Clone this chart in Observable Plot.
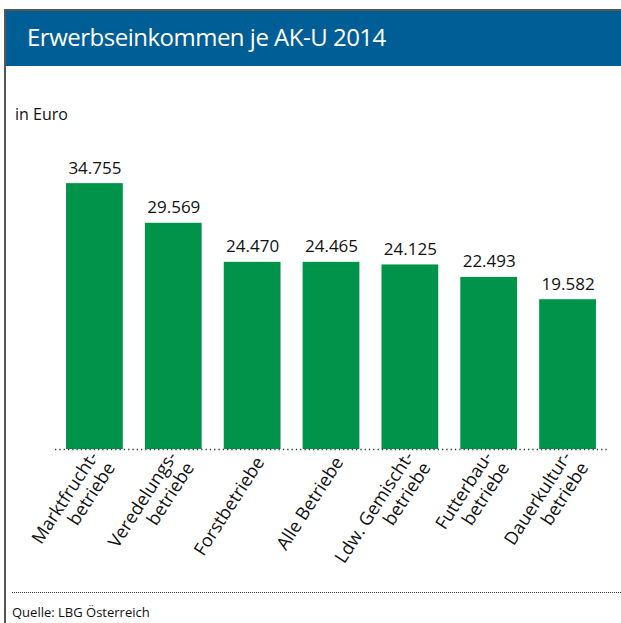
<!DOCTYPE html>
<html>
<head>
<meta charset="utf-8">
<script src="https://cdn.jsdelivr.net/npm/d3@7"></script>
<script src="https://cdn.jsdelivr.net/npm/@observablehq/plot@0.6"></script>
<style>
  html, body { margin: 0; padding: 0; background: #fff; }
  body { width: 621px; height: 623px; position: relative; overflow: hidden; font-family: "Open Sans", sans-serif; }
  .frame-top { position: absolute; left: 4px; top: 9px; width: 617px; height: 2px; background: #555; }
  .frame-left { position: absolute; left: 4px; top: 9px; width: 2px; height: 614px; background: #555; }
  .header { position: absolute; left: 6px; top: 11px; width: 615px; height: 55px; background: #005e96; }
  .title { position: absolute; left: 27px; top: 20px; color: #fff; font-size: 24px; letter-spacing: -0.5px; white-space: nowrap; }
  .unit { position: absolute; left: 15px; top: 103px; font-size: 16px; color: #111; }
  .bottom-rule { position: absolute; left: 12px; top: 592px; width: 609px; height: 0; border-top: 1.3px dotted #333; }
  .source { position: absolute; left: 12px; top: 605px; font-size: 13px; line-height: 15px; color: #111; white-space: nowrap; }
  #chart { position: absolute; left: 6px; top: 70px; }
</style>
</head>
<body>
<div class="frame-top"></div>
<div class="frame-left"></div>
<div class="header"><div></div></div>
<div class="title">Erwerbseinkommen je AK-U 2014</div>
<div class="unit">in Euro</div>
<div id="chart"></div>
<div class="bottom-rule"></div>
<div class="source">Quelle: LBG Österreich</div>
<script>
const categories = ["Marktfrucht", "Veredelung", "Forst", "Alle", "Gemischt", "Futterbau", "Dauerkultur"];
const labels = ["Marktfrucht-\nbetriebe", "Veredelungs-\nbetriebe", "Forstbetriebe", "Alle Betriebe", "Ldw. Gemischt-\nbetriebe", "Futterbau-\nbetriebe", "Dauerkultur-\nbetriebe"];
const values = [34755, 29569, 24470, 24465, 24125, 22493, 19582];

const data = categories.map((c, i) => ({cat: c, label: labels[i], value: values[i]}));
const fmt = v => d3.format(",")(v).replace(/,/g, ".");

const chart = Plot.plot({
  width: 615,
  height: 520,
  marginTop: 73,
  marginBottom: 141,
  marginLeft: 49,
  marginRight: 14,
  style: {fontFamily: "Open Sans, sans-serif", background: "transparent"},
  x: {domain: categories, paddingInner: 0.28, paddingOuter: 0.14, round: false, axis: null},
  y: {domain: [0, 40000], axis: null},
  marks: [
    Plot.barY(data, {x: "cat", y: "value", fill: "#00944b"}),
    Plot.ruleY([0], {stroke: "#333", strokeWidth: 1.3, strokeDasharray: "1.3,3"}),
    Plot.text(data, {x: "cat", y: "value", text: d => fmt(d.value), dy: -10, lineAnchor: "bottom", fontSize: 17, fill: "#111"}),
    Plot.text(data, {x: "cat", y: () => 0, text: "label", rotate: -57, textAnchor: "end", lineAnchor: "middle", dx: 7, dy: 9, fontSize: 18, fill: "#111", lineHeight: 1.12})
  ]
});
document.getElementById("chart").appendChild(chart);
</script>
</body>
</html>
